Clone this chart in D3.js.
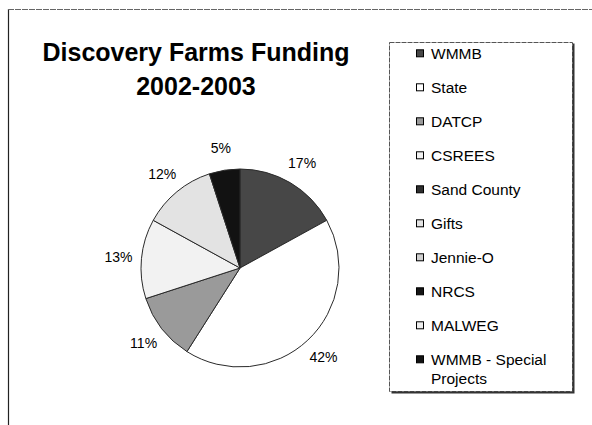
<!DOCTYPE html>
<html>
<head>
<meta charset="utf-8">
<script src="https://cdn.jsdelivr.net/npm/d3@7"></script>
<style>
  html, body { margin: 0; padding: 0; background: #fff; }
  svg { display: block; }
</style>
</head>
<body>
<svg id="chart" width="592" height="425"></svg>
<script>
// funding sources, in legend / slice order
const sources = ["WMMB", "State", "DATCP", "CSREES", "Sand County", "Gifts",
  "Jennie-O", "NRCS", "MALWEG", "WMMB - Special Projects"];
// share of funding, percent
const shares = [17, 42, 11, 13, 0, 12, 0, 0, 0, 5];
const titleLines = ["Discovery Farms Funding", "2002-2003"];

// greyscale fills (scan of an Excel chart)
const fills = ["#474747", "#ffffff", "#9a9a9a", "#f2f2f2", "#2e2e2e",
  "#e3e3e3", "#cfcfcf", "#151515", "#eeeeee", "#121212"];

const font = "'Liberation Sans', Arial, sans-serif";
const svg = d3.select("#chart");

// chart area border (left + top visible, rest runs off the page)
svg.append("line")
  .attr("x1", 8.5).attr("x2", 8.5).attr("y1", 9).attr("y2", 425)
  .attr("stroke", "#222").attr("stroke-width", 1.2);
svg.append("line")
  .attr("x1", 8).attr("x2", 592).attr("y1", 9.5).attr("y2", 9.5)
  .attr("stroke", "#666").attr("stroke-width", 1)
  .attr("stroke-dasharray", "6,1");

// title
svg.append("text")
  .attr("x", 196).attr("y", 61)
  .attr("text-anchor", "middle")
  .attr("font-family", font).attr("font-weight", "bold").attr("font-size", 25)
  .attr("fill", "#000")
  .selectAll("tspan")
  .data(titleLines)
  .join("tspan")
  .attr("x", 196)
  .attr("dy", (d, i) => i === 0 ? 0 : 34)
  .text(d => d);

// pie
const cx = 240, cy = 268, radius = 99;
const color = d3.scaleOrdinal().domain(sources).range(fills);

const pie = d3.pie().sort(null).value(d => d.value);
const arcs = pie(sources.map((s, i) => ({ name: s, value: shares[i] })));

const arc = d3.arc().innerRadius(0).outerRadius(radius);
const labelArc = d3.arc().innerRadius(122).outerRadius(122);

const g = svg.append("g").attr("transform", `translate(${cx},${cy})`);

g.selectAll("path")
  .data(arcs.filter(d => d.data.value > 0))
  .join("path")
  .attr("d", arc)
  .attr("fill", d => color(d.data.name))
  .attr("stroke", "#2a2a2a")
  .attr("stroke-width", 1)
  .attr("stroke-linejoin", "round");

g.selectAll("text")
  .data(arcs.filter(d => d.data.value > 0))
  .join("text")
  .attr("transform", d => `translate(${labelArc.centroid(d)})`)
  .attr("text-anchor", "middle")
  .attr("dy", "0.36em")
  .attr("font-family", font).attr("font-size", 14)
  .attr("fill", "#000")
  .text(d => d.data.value + "%");

// legend
const lg = { x: 389.5, y: 42.5, w: 183, h: 349 };
svg.append("rect")
  .attr("x", lg.x).attr("y", lg.y).attr("width", lg.w).attr("height", lg.h)
  .attr("fill", "#fff").attr("stroke", "#555").attr("stroke-width", 1)
  .attr("stroke-dasharray", "5,1");
// drop shadow edges
svg.append("path")
  .attr("d", `M${lg.x + lg.w + 1},${lg.y + 1}V${lg.y + lg.h + 1}H${lg.x + 2}`)
  .attr("fill", "none").attr("stroke", "#333").attr("stroke-width", 2);

const rowY = d3.scalePoint().domain(sources).range([53.3, 359.3]);

const rows = svg.append("g").selectAll("g")
  .data(sources)
  .join("g")
  .attr("transform", d => `translate(0,${rowY(d)})`);

rows.append("rect")
  .attr("x", 416.5).attr("y", -3.5)
  .attr("width", 7).attr("height", 7)
  .attr("fill", d => color(d))
  .attr("stroke", "#000").attr("stroke-width", 1);

rows.append("text")
  .attr("x", 431).attr("y", 5.5)
  .attr("font-family", font).attr("font-size", 15.5)
  .attr("fill", "#000")
  .selectAll("tspan")
  .data(d => d === "WMMB - Special Projects" ? ["WMMB - Special", "Projects"] : [d])
  .join("tspan")
  .attr("x", 431)
  .attr("dy", (d, i) => i === 0 ? 0 : 19)
  .text(d => d);
</script>
</body>
</html>
